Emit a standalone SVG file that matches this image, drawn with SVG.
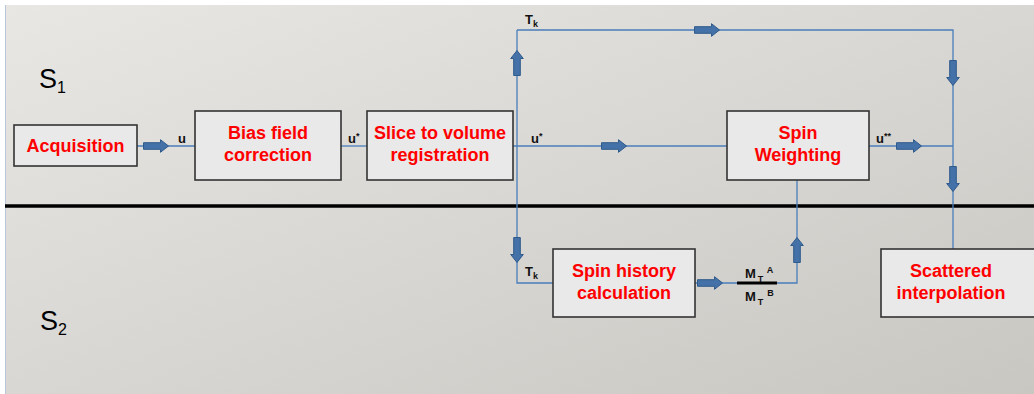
<svg xmlns="http://www.w3.org/2000/svg" xmlns:xlink="http://www.w3.org/1999/xlink" width="1034" height="394" viewBox="0 0 1034 394">
<defs>
<linearGradient id="bg" x1="0" y1="0" x2="1" y2="1">
<stop offset="0" stop-color="#e8e7e4"/>
<stop offset="1" stop-color="#c9c7c2"/>
</linearGradient>
<path id="arr" d="M-12.5,-3.3 L4.5,-3.3 L4.5,-6.3 L12.5,0 L4.5,6.3 L4.5,3.3 L-12.5,3.3 Z" fill="#4472a8" stroke="#2f5a8c" stroke-width="1"/>
</defs>
<style>
.box{fill:#e9e9e9;stroke:#333;stroke-width:1.6}
.bt{font-family:"Liberation Sans",Arial,sans-serif;font-weight:bold;font-size:18px;fill:#ff0000;text-anchor:middle}
.lb{font-family:"Liberation Sans",Arial,sans-serif;font-weight:bold;font-size:13px;fill:#111}
.sm{font-size:9px}
.ln{fill:none;stroke:#4a7ebb;stroke-width:1.3}
.s{font-family:"Liberation Sans",Arial,sans-serif;font-size:27px;fill:#000}
</style>
<rect width="1034" height="394" fill="#ffffff"/>
<rect x="5" y="5" width="1029" height="389" fill="url(#bg)"/>
<line x1="5.5" y1="5" x2="5.5" y2="394" stroke="#b8c6dc" stroke-width="1"/>
<line x1="5" y1="206" x2="1034" y2="206" stroke="#000" stroke-width="3.5"/>
<text class="s" x="39" y="88">S<tspan font-size="16" dy="5">1</tspan></text>
<text class="s" x="40" y="330">S<tspan font-size="16" dy="5">2</tspan></text>
<g id="connectors">
<path class="ln" d="M137,146 H195"/>
<path class="ln" d="M341,146 H367"/>
<path class="ln" d="M513,146 H727"/>
<path class="ln" d="M517,30 V283 H553"/>
<path class="ln" d="M517,30 H953 V249"/>
<path class="ln" d="M869,146 H953"/>
<path class="ln" d="M797,180 V283 H777"/>
<path class="ln" d="M695,283 H737"/>
<line x1="737" y1="283" x2="777" y2="283" stroke="#000" stroke-width="3"/>
<use xlink:href="#arr" transform="translate(156,146)"/>
<use xlink:href="#arr" transform="translate(614,146)"/>
<use xlink:href="#arr" transform="translate(909,146)"/>
<use xlink:href="#arr" transform="translate(707,30)"/>
<use xlink:href="#arr" transform="translate(710,283)"/>
<use xlink:href="#arr" transform="translate(517,63) rotate(-90)"/>
<use xlink:href="#arr" transform="translate(797,250) rotate(-90)"/>
<use xlink:href="#arr" transform="translate(517,250) rotate(90)"/>
<use xlink:href="#arr" transform="translate(953,73) rotate(90)"/>
<use xlink:href="#arr" transform="translate(953,179) rotate(90)"/>
<text class="lb" x="178" y="143">u</text>
<text class="lb" x="348" y="143">u<tspan class="sm" dy="-4">*</tspan></text>
<text class="lb" x="531" y="143">u<tspan class="sm" dy="-4">*</tspan></text>
<text class="lb" x="876" y="143">u<tspan class="sm" dy="-4">**</tspan></text>
<text class="lb" x="525" y="24">T<tspan class="sm" dy="3">k</tspan></text>
<text class="lb" x="525" y="276">T<tspan class="sm" dy="3">k</tspan></text>
<text class="lb" x="745" y="278">M<tspan class="sm" dx="2" dy="4">T</tspan><tspan class="sm" dx="4" dy="-9">A</tspan></text>
<text class="lb" x="745" y="301">M<tspan class="sm" dx="2" dy="4">T</tspan><tspan class="sm" dx="4" dy="-9">B</tspan></text>
</g>
<g id="acquisition">
<rect class="box" x="14" y="125" width="123" height="41"/>
<text class="bt" x="75.5" y="152">Acquisition</text>
</g>
<g id="bias">
<rect class="box" x="195" y="111" width="146" height="69"/>
<text class="bt" x="268" y="139">Bias field</text>
<text class="bt" x="268" y="161">correction</text>
</g>
<g id="slice">
<rect class="box" x="367" y="111" width="146" height="69"/>
<text class="bt" x="440" y="139">Slice to volume</text>
<text class="bt" x="440" y="161">registration</text>
</g>
<g id="spinweighting">
<rect class="box" x="727" y="111" width="142" height="69"/>
<text class="bt" x="798" y="139">Spin</text>
<text class="bt" x="798" y="161">Weighting</text>
</g>
<g id="spinhistory">
<rect class="box" x="553" y="249" width="142" height="68"/>
<text class="bt" x="624" y="277">Spin history</text>
<text class="bt" x="624" y="299">calculation</text>
</g>
<g id="scattered">
<rect class="box" x="881" y="249" width="156" height="68"/>
<text class="bt" x="951" y="277">Scattered</text>
<text class="bt" x="951" y="299">interpolation</text>
</g>
</svg>
